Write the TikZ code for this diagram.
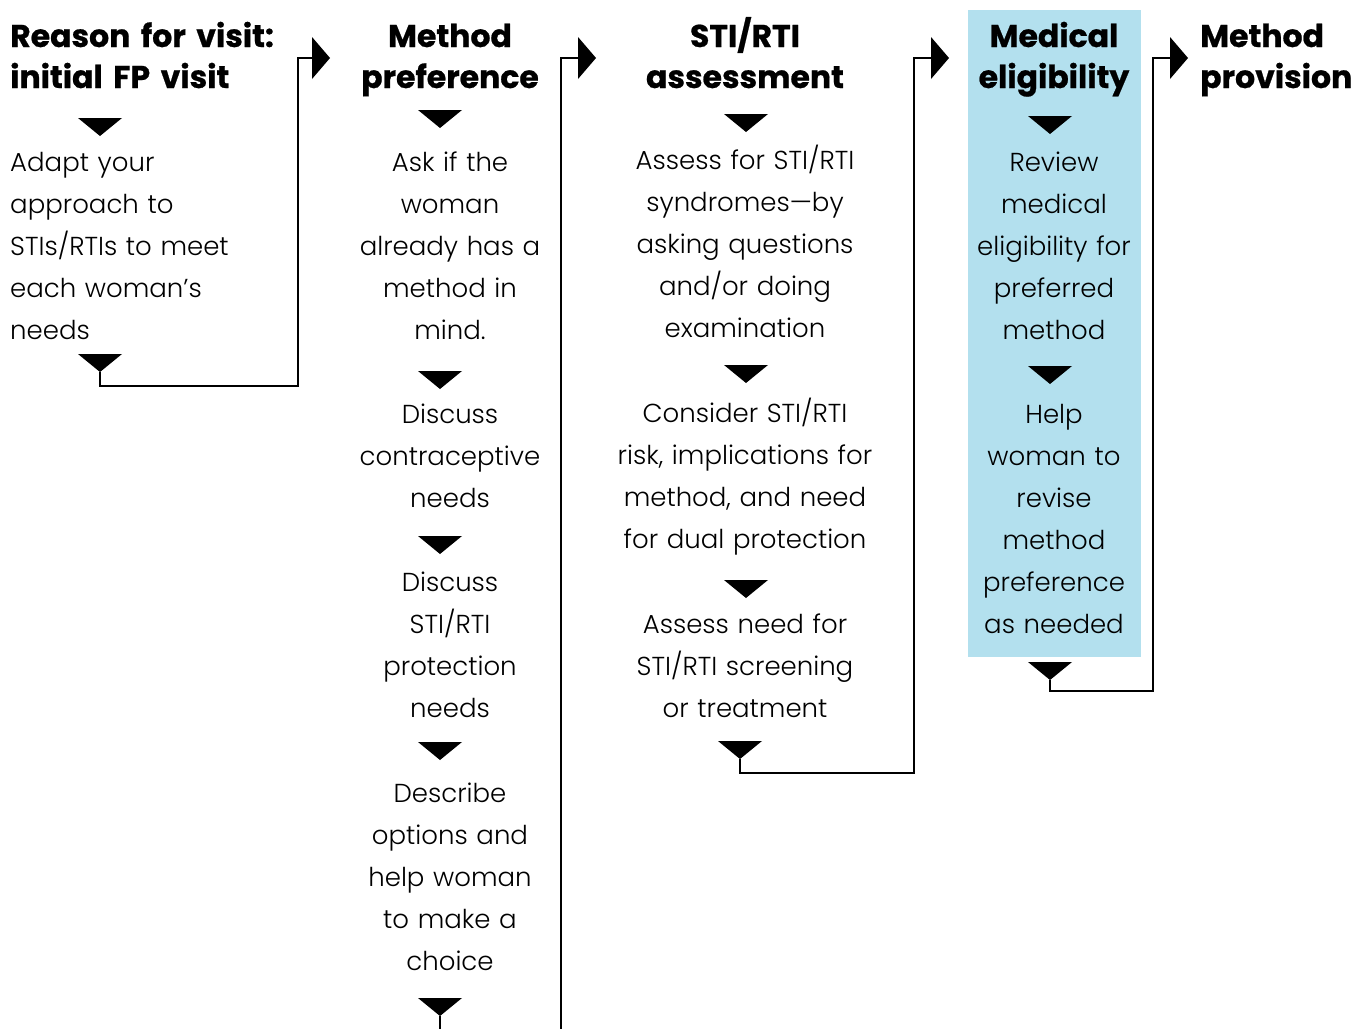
\documentclass[tikz,border=0pt]{standalone}
\usepackage{fontspec}
\usetikzlibrary{calc}
\newfontfamily\bodyfont{Poppins Light}
\newfontfamily\headfamily{Poppins}[BoldFeatures={FakeBold=0.7}]
\newcommand\headfont{\headfamily\bfseries}
\definecolor{eligblue}{HTML}{B3E0EE}
\newcommand\downtri[1]{\fill (#1) ++(-22,0) -- ++(44,0) -- ++(-22,18) -- cycle;}
\newcommand\righttri[1]{\fill (#1) ++(0,-21) -- ++(18,21) -- ++(-18,21) -- cycle;}
\begin{document}
\begin{tikzpicture}[x=1pt,y=-1pt,
  bodyc/.style={font=\bodyfont\fontsize{26}{42}\selectfont, inner sep=0pt, anchor=base, text width=320pt, align=center},
  bodyl/.style={font=\bodyfont\fontsize{26}{42}\selectfont, inner sep=0pt, anchor=base west, text width=320pt, align=left},
  headc/.style={font=\headfont\fontsize{31.5}{41}\selectfont, inner sep=0pt, anchor=base, text width=320pt, align=center},
  headl/.style={font=\headfont\fontsize{31.5}{41}\selectfont, inner sep=0pt, anchor=base west, text width=320pt, align=left},
  conn/.style={draw=black, line width=2.5pt, line join=miter}
]
\useasboundingbox (0,0) rectangle (1359,1028);
\clip (0,0) rectangle (1359,1028);

% highlighted column background
\node (eligbg) [fill=eligblue, inner sep=0pt, minimum width=173pt, minimum height=647pt, anchor=north west] at (968,10) {};

% Column 1
\node (h1) [headl] at (10,47) {Reason for visit:\\initial FP visit};
\node (b11) [bodyl] at (10,171.5) {Adapt your\\approach to\\STIs/RTIs to meet\\each woman’s\\needs};
% Column 2
\node (h2) [headc] at (450,47) {Method\\preference};
\node (b21) [bodyc] at (450,171.5) {Ask if the\\woman\\already has a\\method in\\mind.};
\node (b22) [bodyc] at (450,423.5) {Discuss\\contraceptive\\needs};
\node (b23) [bodyc] at (450,591.5) {Discuss\\STI/RTI\\protection\\needs};
\node (b24) [bodyc] at (450,802.5) {Describe\\options and\\help woman\\to make a\\choice};
% Column 3
\node (h3) [headc] at (745,47) {STI/RTI\\assessment};
\node (b31) [bodyc] at (745,169.5) {Assess for STI/RTI\\syndromes—by\\asking questions\\and/or doing\\examination};
\node (b32) [bodyc] at (745,422.5) {Consider STI/RTI\\risk, implications for\\method, and need\\for dual protection};
\node (b33) [bodyc] at (745,633.5) {Assess need for\\STI/RTI screening\\or treatment};
% Column 4
\node (h4) [headc] at (1054,47) {Medical\\eligibility};
\node (b41) [bodyc] at (1054,171.5) {Review\\medical\\eligibility for\\preferred\\method};
\node (b42) [bodyc] at (1054,423.5) {Help\\woman to\\revise\\method\\preference\\as needed};
% Column 5
\node (h5) [headl] at (1200,47) {Method\\provision};

% triangle markers (top centre of each)
\coordinate (t11) at (100,118);
\coordinate (t12) at (100,354);
\coordinate (t21) at (440,110);
\coordinate (t22) at (440,371);
\coordinate (t23) at (440,536);
\coordinate (t24) at (440,742);
\coordinate (t25) at (440,998);
\coordinate (t31) at (746,114);
\coordinate (t32) at (746,365);
\coordinate (t33) at (746,580);
\coordinate (t34) at (740,741);
\coordinate (t41) at (1050,116);
\coordinate (t42) at (1050,366);
\coordinate (t43) at (1050,662);
\foreach \t in {t11,t12,t21,t22,t23,t24,t25,t31,t32,t33,t34,t41,t42,t43} {\downtri{\t}}

% arrowheads pointing to next column (base-centre)
\coordinate (a1) at (312,58);
\coordinate (a2) at (578,58);
\coordinate (a3) at (931,58);
\coordinate (a4) at (1170,58);
\foreach \a in {a1,a2,a3,a4} {\righttri{\a}}

% tips of the last triangle in each column
\coordinate (e1) at (100,372);
\coordinate (e2) at (440,1016);
\coordinate (e3) at (740,759);
\coordinate (e4) at (1050,680);

% connectors
\draw[conn] (e1) -- ++(0,14) -| ($(a1)+(-14,0)$) -- (a1);
\draw[conn] (e2) -- ++(0,30) -| ($(a2)+(-17,0)$) -- (a2);
\draw[conn] (e3) -- ++(0,14) -| ($(a3)+(-17,0)$) -- (a3);
\draw[conn] (e4) -- ++(0,11) -| ($(a4)+(-17,0)$) -- (a4);
\end{tikzpicture}
\end{document}
